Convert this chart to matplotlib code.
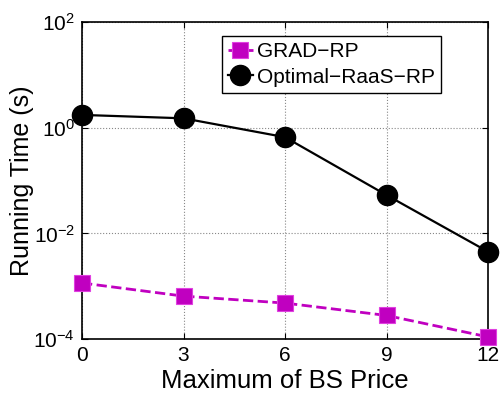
import matplotlib
matplotlib.use('Agg')
import matplotlib.pyplot as plt
from matplotlib.ticker import NullLocator

# data
bs_price = [0, 3, 6, 9, 12]
grad_rp = [0.00115, 0.00065, 0.00048, 0.00028, 0.00011]
optimal_raas_rp = [1.74, 1.5, 0.66, 0.053, 0.0045]

plt.rcParams['font.family'] = ['Liberation Sans', 'DejaVu Sans']
plt.rcParams['mathtext.fontset'] = 'custom'
plt.rcParams['mathtext.rm'] = 'Liberation Sans'

fig = plt.figure(figsize=(5, 3.98), dpi=100)
ax = fig.add_axes([0.164, 0.148, 0.812, 0.797])

ax.plot(bs_price, grad_rp, '--s', color='#c000c0', lw=2, ms=12,
        markeredgecolor='#e040e0', markeredgewidth=0.8, label='GRAD\u2212RP',
        zorder=3, clip_on=False)
ax.plot(bs_price, optimal_raas_rp, '-o', color='black', lw=1.6, ms=14.5,
        label='Optimal\u2212RaaS\u2212RP', zorder=3, clip_on=False)

ax.set_yscale('log')
ax.set_ylim(1e-4, 1e2)
ax.set_xlim(0, 12)
ax.set_xticks(bs_price)
ax.set_yticks([1e-4, 1e-2, 1e0, 1e2])
ax.yaxis.set_minor_locator(NullLocator())

ax.grid(True, linestyle=':', color='#888888', linewidth=0.8)
ax.tick_params(direction='in', labelsize=15, top=True, right=True, length=4, pad=5)
for s in ax.spines.values():
    s.set_linewidth(1.2)

ax.set_xlabel('Maximum of BS Price', fontsize=18.5, labelpad=3)
ax.set_ylabel('Running Time (s)', fontsize=18)
ax.yaxis.set_label_coords(-0.118, 0.5)

leg = ax.legend(loc='upper right', bbox_to_anchor=(0.885, 0.955), fontsize=15,
                fancybox=False, framealpha=1, edgecolor='black',
                handlelength=1.2, handletextpad=0.2, borderpad=0.3, labelspacing=0.3,
                borderaxespad=0)
leg.get_frame().set_linewidth(1.0)

fig.savefig('out.png', dpi=100)
